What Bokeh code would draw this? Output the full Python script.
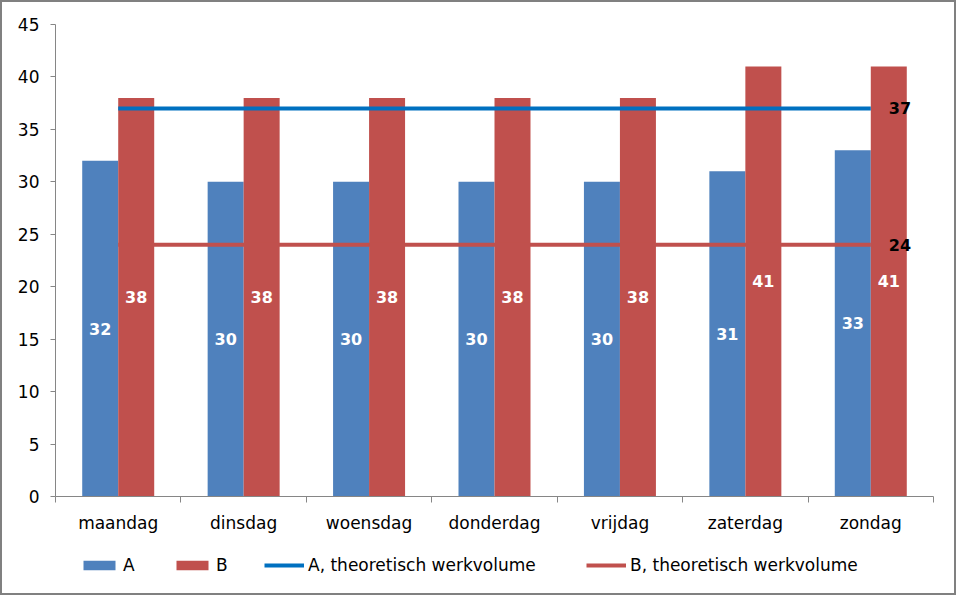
from bokeh.plotting import figure
from bokeh.layouts import column
from bokeh.models import ColumnDataSource, FixedTicker, Legend, LegendItem, Range1d, Label
from bokeh.core.properties import value
from bokeh.embed import file_html
from bokeh.resources import INLINE

days = ["maandag", "dinsdag", "woensdag", "donderdag", "vrijdag", "zaterdag", "zondag"]
a_vals = [32, 30, 30, 30, 30, 31, 33]
b_vals = [38, 38, 38, 38, 38, 41, 41]
a_theo = 37
b_theo = 24
y_ticks = [0, 5, 10, 15, 20, 25, 30, 35, 40, 45]
legend_labels = ["A", "B", "A, theoretisch werkvolume", "B, theoretisch werkvolume"]

FONT = "DejaVu Sans"
BLUE = "#4F81BD"
RED = "#C0504D"
LINE_BLUE = "#0070C0"
GREY = "#868686"

n = len(days)
centers = [i + 0.5 for i in range(n)]
bw = 0.287

src = ColumnDataSource(dict(
    xa=[c - bw / 2 for c in centers],
    xb=[c + bw / 2 for c in centers],
    a=a_vals, b=b_vals,
    ya=[v / 2 for v in a_vals], yb=[v / 2 for v in b_vals],
    la=[str(v) for v in a_vals], lb=[str(v) for v in b_vals],
    xc=centers,
    at=[a_theo] * n, bt=[b_theo] * n,
))

p = figure(width=952, height=538, output_backend="svg", toolbar_location=None,
           x_range=Range1d(0, n), y_range=Range1d(0, 45),
           min_border_left=53, min_border_right=21, min_border_top=22, min_border_bottom=44)
p.outline_line_color = None
p.xgrid.visible = False
p.ygrid.visible = False

ra = p.vbar(x="xa", top="a", width=bw, source=src, fill_color=BLUE, line_color=None)
rb = p.vbar(x="xb", top="b", width=bw, source=src, fill_color=RED, line_color=None)
rla = p.line(x="xc", y="at", source=src, line_color=LINE_BLUE, line_width=4)
rlb = p.line(x="xc", y="bt", source=src, line_color=RED, line_width=4)

p.text(x="xa", y="ya", text="la", source=src, text_color="white", text_font=value(FONT),
       text_font_style="bold", text_font_size="16px", text_align="center", text_baseline="middle")
p.text(x="xb", y="yb", text="lb", source=src, text_color="white", text_font=value(FONT),
       text_font_style="bold", text_font_size="16px", text_align="center", text_baseline="middle")

for v in (a_theo, b_theo):
    p.add_layout(Label(x=centers[-1], y=v, text=str(v), x_offset=18, text_font=FONT,
                       text_font_style="bold", text_font_size="16px", text_color="black",
                       text_baseline="middle", text_align="left"))

# y axis
p.yaxis.ticker = FixedTicker(ticks=y_ticks)
p.yaxis.axis_line_color = GREY
p.yaxis.major_tick_line_color = GREY
p.yaxis.major_tick_out = 5
p.yaxis.major_tick_in = 0
p.yaxis.minor_tick_line_color = None
p.yaxis.major_label_text_font = FONT
p.yaxis.major_label_text_font_size = "17px"
p.yaxis.major_label_text_color = "black"
p.yaxis.major_label_standoff = 11

# x axis
p.xaxis.ticker = FixedTicker(ticks=centers, minor_ticks=list(range(n + 1)))
p.xaxis.major_label_overrides = {c: d for c, d in zip(centers, days)}
p.xaxis.axis_line_color = GREY
p.xaxis.major_tick_line_color = None
p.xaxis.minor_tick_line_color = GREY
p.xaxis.minor_tick_out = 6
p.xaxis.minor_tick_in = 0
p.xaxis.major_label_text_font = FONT
p.xaxis.major_label_text_font_size = "17px"
p.xaxis.major_label_text_color = "black"
p.xaxis.major_label_standoff = 10

# legend strip: same series, drawn far outside this strip's visible range, used as swatches
lg = figure(width=952, height=53, output_backend="svg", toolbar_location=None,
            x_range=Range1d(0, n), y_range=Range1d(1000, 1001),
            x_axis_location=None, y_axis_location=None,
            min_border_left=0, min_border_right=0, min_border_top=0, min_border_bottom=0)
lg.grid.visible = False
lg.outline_line_color = None
ga = lg.vbar(x="xa", top="a", width=bw, source=src, fill_color=BLUE, line_color=None)
gb = lg.vbar(x="xb", top="b", width=bw, source=src, fill_color=RED, line_color=None)
gla = lg.line(x="xc", y="at", source=src, line_color=LINE_BLUE, line_width=4)
glb = lg.line(x="xc", y="bt", source=src, line_color=RED, line_width=4)

for rend, lab, xloc in zip([ga, gb, gla, glb], legend_labels, [24, 117, 209, 531]):
    leg = Legend(items=[LegendItem(label=lab, renderers=[rend])],
                 orientation="horizontal", border_line_color=None, background_fill_alpha=0,
                 label_text_font=FONT, label_text_font_size="17px", label_text_color="black",
                 glyph_width=40, glyph_height=12, label_standoff=4, padding=0, margin=0,
                 location=(xloc, 18))
    lg.add_layout(leg)

layout = column(p, lg, spacing=0,
                styles={"border": "2px solid #808080", "background-color": "white"})

open("out.html", "w").write(file_html(layout, INLINE))
